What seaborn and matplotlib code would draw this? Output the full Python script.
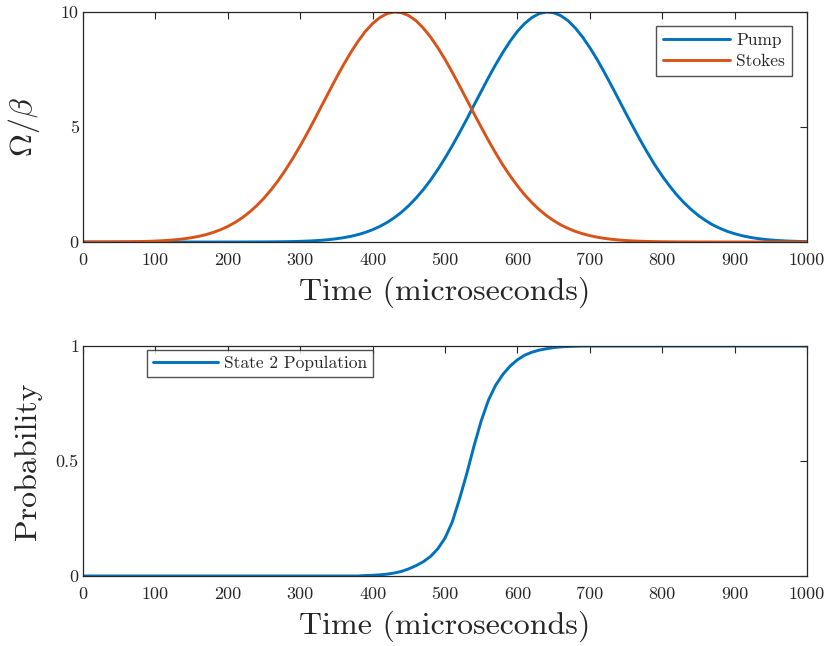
import matplotlib
matplotlib.use("Agg")
import matplotlib.pyplot as plt
import seaborn as sns
import pandas as pd

time_us = list(range(0, 1001, 10))

pump = [0, 0, 0, 0, 0, 0, 0, 0, 0, 0,
        0, 0, 0, 0, 0, 0, 0, 0, 0, 0,
        0.001, 0.001, 0.0014, 0.0021, 0.0031, 0.0046, 0.0068, 0.0099, 0.0143, 0.020,
        0.029, 0.040, 0.056, 0.077, 0.105, 0.141, 0.188, 0.247, 0.323, 0.418,
        0.535, 0.678, 0.851, 1.057, 1.30, 1.584, 1.91, 2.279, 2.69, 3.150,
        3.65, 4.185, 4.75, 5.341, 5.95, 6.550, 7.15, 7.718, 8.25, 8.735,
        9.16, 9.50, 9.76, 9.93, 10.0, 9.97, 9.84, 9.62, 9.30, 8.91,
        8.45, 7.94, 7.38, 6.79, 6.19, 5.58, 4.99, 4.41, 3.86, 3.34,
        2.87, 2.44, 2.05, 1.71, 1.41, 1.15, 0.93, 0.74, 0.59, 0.46,
        0.36, 0.276, 0.21, 0.158, 0.118, 0.087, 0.064, 0.046, 0.033, 0.023,
        0.016]

stokes = [0.001, 0.0014, 0.0021, 0.0031, 0.0046, 0.0068, 0.0099, 0.0143, 0.020, 0.029,
          0.040, 0.056, 0.077, 0.105, 0.141, 0.188, 0.247, 0.323, 0.418, 0.535,
          0.678, 0.851, 1.057, 1.30, 1.584, 1.91, 2.279, 2.69, 3.150, 3.65,
          4.185, 4.75, 5.341, 5.95, 6.550, 7.15, 7.718, 8.25, 8.735, 9.16,
          9.50, 9.76, 9.93, 10.0, 9.97, 9.84, 9.62, 9.30, 8.91, 8.45,
          7.94, 7.38, 6.79, 6.19, 5.58, 4.99, 4.41, 3.86, 3.34, 2.87,
          2.44, 2.05, 1.71, 1.41, 1.15, 0.93, 0.74, 0.59, 0.46, 0.36,
          0.276, 0.21, 0.158, 0.118, 0.087, 0.064, 0.046, 0.033, 0.023, 0.016,
          0.011, 0.008, 0.005, 0.004, 0.002, 0.002, 0.001, 0, 0, 0,
          0, 0, 0, 0, 0, 0, 0, 0, 0, 0,
          0]

population = [0, 0, 0, 0, 0, 0, 0, 0, 0, 0,
              0, 0, 0, 0, 0, 0, 0, 0, 0, 0,
              0, 0, 0, 0, 0, 0, 0, 0, 0, 0,
              0, 0, 0, 0, 0, 0, 0, 0, 0, 0.002,
              0.003, 0.005, 0.008, 0.013, 0.02, 0.031, 0.045, 0.062, 0.085, 0.118,
              0.165, 0.235, 0.335, 0.445, 0.565, 0.675, 0.765, 0.83, 0.877, 0.913,
              0.94, 0.96, 0.973, 0.982, 0.988, 0.993, 0.996, 0.998, 0.999, 1,
              1, 1, 1, 1, 1, 1, 1, 1, 1, 1,
              1, 1, 1, 1, 1, 1, 1, 1, 1, 1,
              1, 1, 1, 1, 1, 1, 1, 1, 1, 1,
              1]

x_ticks = [0, 100, 200, 300, 400, 500, 600, 700, 800, 900, 1000]
x_tick_labels = ["0", "100", "200", "300", "400", "500", "600", "700", "800", "900", "1000"]
top_y_ticks = [0, 5, 10]
top_y_tick_labels = ["0", "5", "10"]
bot_y_ticks = [0, 0.5, 1]
bot_y_tick_labels = ["0", "0.5", "1"]

series_names = ["Pump", "Stokes"]
pop_name = "State 2 Population"
x_label = "Time (microseconds)"
top_y_label = r"$\Omega/\beta$"
bot_y_label = "Probability"

BLUE = "#0072BD"
ORANGE = "#D95319"

# ---- style ----
sns.set_style("white")
plt.rcParams["font.family"] = "serif"
plt.rcParams["font.serif"] = ["cmr10", "DejaVu Serif"]
plt.rcParams["mathtext.fontset"] = "cm"
plt.rcParams["axes.unicode_minus"] = False

df_top = pd.DataFrame({
    "time": time_us * 2,
    "value": pump + stokes,
    "series": [series_names[0]] * len(time_us) + [series_names[1]] * len(time_us),
})
df_bot = pd.DataFrame({"time": time_us, "value": population})

fig = plt.figure(figsize=(8.32, 6.46), dpi=100)
ax1 = fig.add_axes([0.0998, 0.6254, 0.8702, 0.356])
ax2 = fig.add_axes([0.0998, 0.1084, 0.8702, 0.356])

sns.lineplot(data=df_top, x="time", y="value", hue="series",
             palette=[BLUE, ORANGE], linewidth=2.1, ax=ax1, legend=False)
sns.lineplot(data=df_bot, x="time", y="value", color=BLUE,
             linewidth=2.1, ax=ax2, legend=False)

TICK_COL = "#262626"
for ax, yt, ytl, ylim in [(ax1, top_y_ticks, top_y_tick_labels, (0, 10)),
                          (ax2, bot_y_ticks, bot_y_tick_labels, (0, 1))]:
    ax.set_xlim(0, 1000)
    ax.set_ylim(*ylim)
    ax.set_xticks(x_ticks)
    ax.set_xticklabels(x_tick_labels)
    ax.set_yticks(yt)
    ax.set_yticklabels(ytl)
    ax.tick_params(axis="both", direction="in", length=5, width=0.8,
                   color=TICK_COL, labelcolor=TICK_COL, labelsize=13,
                   top=True, right=True)
    ax.tick_params(axis="x", pad=8)
    ax.tick_params(axis="y", pad=3)
    for sp in ax.spines.values():
        sp.set_visible(True)
        sp.set_color(TICK_COL)
        sp.set_linewidth(0.9)
    ax.set_xlabel(x_label, fontsize=23, color=TICK_COL)
    ax.xaxis.set_label_coords(0.5, -0.15)

ax1.set_ylabel(top_y_label, fontsize=23, color=TICK_COL)
ax2.set_ylabel(bot_y_label, fontsize=23, color=TICK_COL)
ax1.yaxis.set_label_coords(-0.057, 0.5)
ax2.yaxis.set_label_coords(-0.057, 0.5)

lines1 = ax1.get_lines()
leg1 = ax1.legend(lines1[:2], series_names, loc="upper right",
                  bbox_to_anchor=(0.979, 0.939), borderaxespad=0,
                  fontsize=12.5, frameon=True, fancybox=False,
                  handlelength=3.9, handletextpad=0.35, borderpad=0.38,
                  labelspacing=0.34)
leg1.get_frame().set_edgecolor(TICK_COL)
leg1.get_frame().set_linewidth(1.0)

lines2 = ax2.get_lines()
leg2 = ax2.legend(lines2[:1], [pop_name], loc="upper left",
                  bbox_to_anchor=(0.088, 0.983), borderaxespad=0,
                  fontsize=12.5, frameon=True, fancybox=False,
                  handlelength=3.75, handletextpad=0.35, borderpad=0.35)
leg2.get_frame().set_edgecolor(TICK_COL)
leg2.get_frame().set_linewidth(1.0)

fig.savefig("out.png", dpi=100)
